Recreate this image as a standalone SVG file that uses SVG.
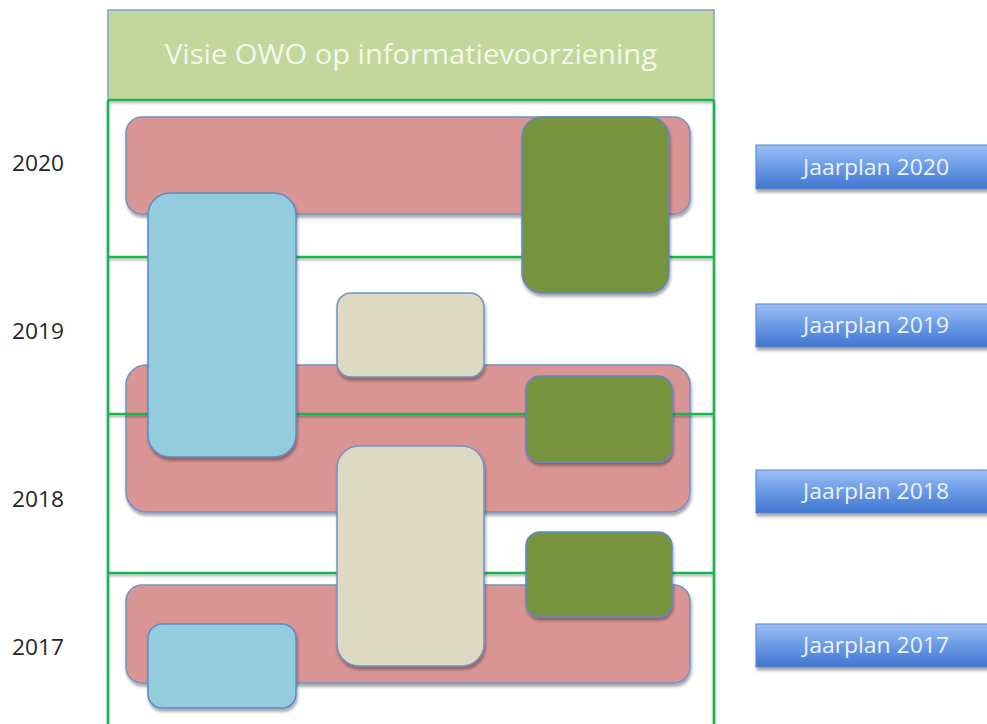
<svg xmlns="http://www.w3.org/2000/svg" width="987" height="724" viewBox="0 0 987 724">
  <defs>
    <filter id="shadow" x="-10%" y="-10%" width="125%" height="130%">
      <feDropShadow dx="1" dy="3" stdDeviation="1.6" flood-color="#000" flood-opacity="0.35"/>
    </filter>
    <filter id="lineShadow" x="-5%" y="-50%" width="110%" height="300%">
      <feDropShadow dx="0" dy="2" stdDeviation="1" flood-color="#000" flood-opacity="0.3"/>
    </filter>
    <linearGradient id="btnGrad" x1="0" y1="0" x2="0" y2="1">
      <stop offset="0" stop-color="#9dbff5"/>
      <stop offset="0.5" stop-color="#6a9ae6"/>
      <stop offset="1" stop-color="#3f76cf"/>
    </linearGradient>
  </defs>
  <style>
    .year { font-family: "Open Sans", "Liberation Sans", sans-serif; font-size: 22px; fill: #262626; }
    .pink { fill: #d99594; stroke: #6f93c8; stroke-width: 1.5; filter: url(#shadow); }
    .blue { fill: #93cddd; stroke: #5f89c2; stroke-width: 1.5; filter: url(#shadow); }
    .olive { fill: #77933c; stroke: #5f89c2; stroke-width: 1.5; filter: url(#shadow); }
    .beige { fill: #ddd9c3; stroke: #6f93c8; stroke-width: 1.5; filter: url(#shadow); }
    .grid { fill: none; stroke: #1fb44f; stroke-width: 2.5; }
    .btn { fill: url(#btnGrad); stroke: #5a86cc; stroke-width: 1; filter: url(#shadow); }
    .btnText { font-family: "Open Sans", "Liberation Sans", sans-serif; font-size: 22px; fill: #eef3fb; text-anchor: middle; }
  </style>

  <rect width="987" height="724" fill="#ffffff"/>

  <!-- Header -->
  <g id="header">
    <rect x="108" y="10" width="606" height="90" fill="#c3d69b" stroke="#7ea0d0" stroke-width="1.5"/>
    <text x="411" y="64" font-family="Open Sans, Liberation Sans, sans-serif" font-size="27" fill="#f4f8ec" text-anchor="middle" textLength="492" lengthAdjust="spacingAndGlyphs">Visie OWO op informatievoorziening</text>
  </g>

  <!-- Year labels -->
  <g id="years">
    <text class="year" x="12" y="171" textLength="52" lengthAdjust="spacingAndGlyphs">2020</text>
    <text class="year" x="12" y="339" textLength="52" lengthAdjust="spacingAndGlyphs">2019</text>
    <text class="year" x="12" y="507" textLength="52" lengthAdjust="spacingAndGlyphs">2018</text>
    <text class="year" x="12" y="655" textLength="52" lengthAdjust="spacingAndGlyphs">2017</text>
  </g>

  <!-- Broad bars per period -->
  <g id="bar-2020"><rect class="pink" x="126" y="117" width="564" height="97" rx="16"/></g>
  <g id="bar-2018-2019"><rect class="pink" x="126" y="365" width="564" height="147" rx="20"/></g>
  <g id="bar-2017"><rect class="pink" x="126" y="585" width="564" height="98" rx="16"/></g>

  <!-- Year rows -->
  <g id="rows" filter="url(#lineShadow)">
    <line class="grid" x1="108" y1="100" x2="714" y2="100"/>
    <line class="grid" x1="108" y1="257" x2="714" y2="257"/>
    <line class="grid" x1="108" y1="414" x2="714" y2="414"/>
    <line class="grid" x1="108" y1="573" x2="714" y2="573"/>
    <line class="grid" x1="108" y1="100" x2="108" y2="724"/>
    <line class="grid" x1="714" y1="100" x2="714" y2="724"/>
  </g>

  <!-- Projects -->
  <g id="blue-2019-2020"><rect class="blue" x="148" y="193" width="148" height="264" rx="22"/></g>
  <g id="olive-2020"><rect class="olive" x="522" y="117" width="147" height="176" rx="20"/></g>
  <g id="beige-2019"><rect class="beige" x="337" y="293" width="147" height="84" rx="14"/></g>
  <g id="olive-2019"><rect class="olive" x="526" y="376" width="146" height="86" rx="14"/></g>
  <g id="beige-2017-2018"><rect class="beige" x="337" y="446" width="147" height="220" rx="22"/></g>
  <g id="olive-2018"><rect class="olive" x="526" y="532" width="146" height="85" rx="14"/></g>
  <g id="blue-2017"><rect class="blue" x="148" y="624" width="148" height="84" rx="14"/></g>

  <!-- Annual plans -->
  <g id="jaarplan-2020">
    <rect class="btn" x="756" y="145" width="240" height="44"/>
    <text class="btnText" x="876" y="175" textLength="146" lengthAdjust="spacingAndGlyphs">Jaarplan 2020</text>
  </g>
  <g id="jaarplan-2019">
    <rect class="btn" x="756" y="304" width="240" height="43"/>
    <text class="btnText" x="876" y="333" textLength="146" lengthAdjust="spacingAndGlyphs">Jaarplan 2019</text>
  </g>
  <g id="jaarplan-2018">
    <rect class="btn" x="756" y="470" width="240" height="43"/>
    <text class="btnText" x="876" y="499" textLength="146" lengthAdjust="spacingAndGlyphs">Jaarplan 2018</text>
  </g>
  <g id="jaarplan-2017">
    <rect class="btn" x="756" y="624" width="240" height="43"/>
    <text class="btnText" x="876" y="653" textLength="146" lengthAdjust="spacingAndGlyphs">Jaarplan 2017</text>
  </g>
</svg>
